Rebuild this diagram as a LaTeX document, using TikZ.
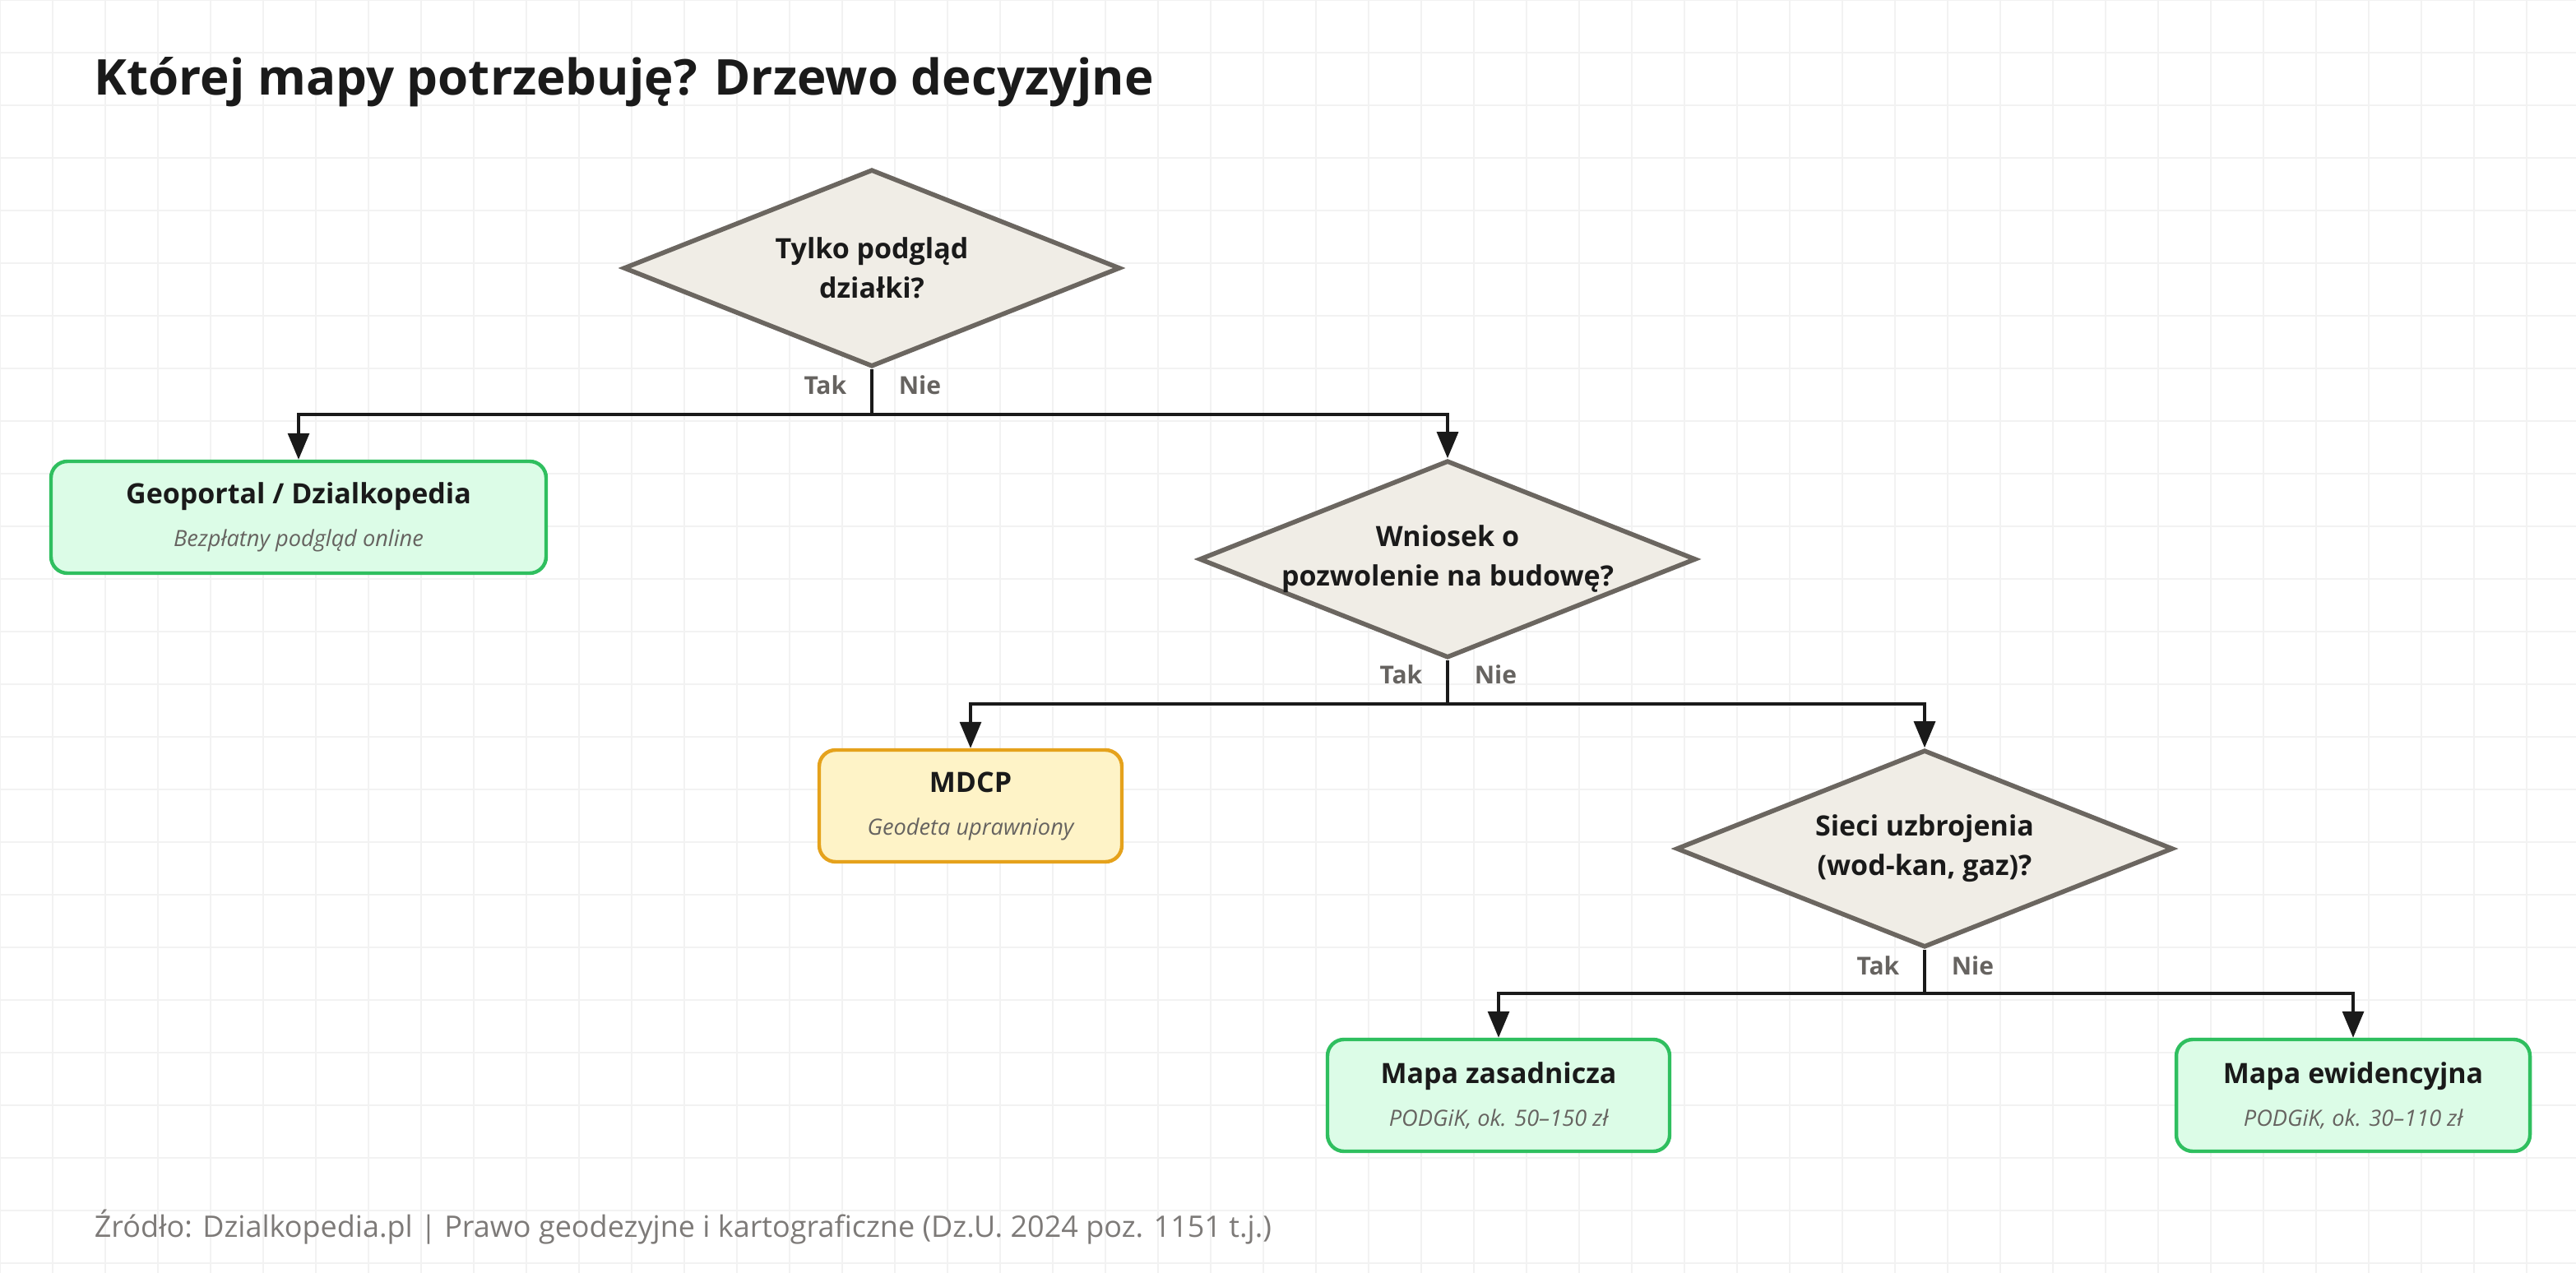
\documentclass[tikz,border=0pt]{standalone}
\usepackage{fontspec}
\setmainfont{Open Sans}
\usetikzlibrary{shapes.geometric,arrows.meta}
\definecolor{ink}{HTML}{1A1A1A}
\definecolor{qfill}{HTML}{F0EDE6}
\definecolor{qdraw}{HTML}{6B6660}
\definecolor{gfill}{HTML}{DCFCE7}
\definecolor{gdraw}{HTML}{2FBF5F}
\definecolor{yfill}{HTML}{FEF3C7}
\definecolor{ydraw}{HTML}{E5A21C}
\definecolor{lbl}{HTML}{666360}
\definecolor{gridc}{HTML}{F2F2F2}
\tikzset{
  question/.style={diamond,fill=qfill,draw=qdraw,line width=1.4pt,inner sep=0pt,
    minimum width=151pt,minimum height=60pt,
    label={[font=\fontsize{8.5}{12}\selectfont\bfseries,text=ink,align=center]center:#1}},
  answer/.style={rectangle,rounded corners=5pt,line width=1.1pt,align=center,
    text=ink,inner sep=0pt},
  greenbox/.style={answer,fill=gfill,draw=gdraw},
  yellowbox/.style={answer,fill=yfill,draw=ydraw},
  branch/.style={line width=0.8pt,draw=ink},
  arrowline/.style={branch,-{Triangle[length=8pt,width=6.5pt]}},
  yesno/.style={font=\fontsize{7.5}{10}\selectfont\bfseries,text=lbl,inner sep=0pt}
}
\newcommand{\boxtext}[2]{{\fontsize{8.5}{11}\selectfont\bfseries #1}\\[1pt]{\fontsize{6.8}{9}\selectfont\itshape\color{lbl}#2}}

\begin{document}
\begin{tikzpicture}[x=0.5pt,y=-0.5pt]
    \useasboundingbox (0,0) rectangle (1566,774);
    \draw[gridc,line width=0.4pt] (0,0) grid[step=16pt] (1566,774);

    \node[anchor=base west,font=\fontsize{15}{18}\selectfont\bfseries,text=ink,inner sep=0pt]
        (title) at (57,58) {Której mapy potrzebuję? Drzewo decyzyjne};

    % questions
    \node[question={Tylko podgląd\\działki?}] (q1) at (530,163) {};
    \node[question={Wniosek o\\pozwolenie na budowę?}] (q2) at (880,340) {};
    \node[question={Sieci uzbrojenia\\(wod-kan, gaz)?}] (q3) at (1170,516) {};

    % answers
    \node[greenbox,minimum width=150.5pt,minimum height=34pt] (geo) at (181.5,314.5)
        {\boxtext{Geoportal / Dzialkopedia}{Bezpłatny podgląd online}};
    \node[yellowbox,minimum width=92pt,minimum height=34pt] (mdcp) at (590,490)
        {\boxtext{MDCP}{Geodeta uprawniony}};
    \node[greenbox,minimum width=104pt,minimum height=34pt] (zas) at (911,666)
        {\boxtext{Mapa zasadnicza}{PODGiK, ok. 50–150 zł}};
    \node[greenbox,minimum width=107.5pt,minimum height=34pt] (ewi) at (1430.5,666)
        {\boxtext{Mapa ewidencyjna}{PODGiK, ok. 30–110 zł}};

    % branches
    \coordinate (j1) at (530,252);
    \coordinate (j2) at (880,428);
    \coordinate (j3) at (1170,604);
    \draw[branch] (q1.south) -- (j1);
    \draw[arrowline] (j1) -| (geo.north);
    \draw[arrowline] (j1) -| (q2.north);
    \draw[branch] (q2.south) -- (j2);
    \draw[arrowline] (j2) -| (mdcp.north);
    \draw[arrowline] (j2) -| (q3.north);
    \draw[branch] (q3.south) -- (j3);
    \draw[arrowline] (j3) -| (zas.north);
    \draw[arrowline] (j3) -| (ewi.north);

    \node[yesno,anchor=east] (t1) at (515,234) {Tak};
    \node[yesno,anchor=west] (n1) at (546,234) {Nie};
    \node[yesno,anchor=east] (t2) at (865,410) {Tak};
    \node[yesno,anchor=west] (n2) at (896,410) {Nie};
    \node[yesno,anchor=east] (t3) at (1155,587) {Tak};
    \node[yesno,anchor=west] (n3) at (1186,587) {Nie};

    \node[anchor=base west,font=\fontsize{9}{11}\selectfont,text=lbl!85,inner sep=0pt]
        (src) at (57,752) {Źródło: Dzialkopedia.pl | Prawo geodezyjne i kartograficzne (Dz.U. 2024 poz. 1151 t.j.)};
\end{tikzpicture}
\end{document}
